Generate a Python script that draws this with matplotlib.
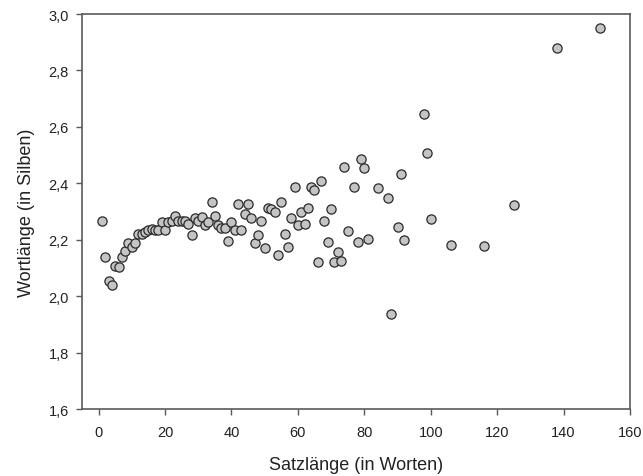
import matplotlib
matplotlib.use("Agg")
import matplotlib.pyplot as plt
from matplotlib.ticker import FuncFormatter

plt.rcParams['font.family'] = ['Liberation Sans', 'DejaVu Sans']

satzlaenge = [1, 2, 3, 4, 5, 6, 7, 8, 9, 10, 11, 12, 13, 14, 15, 16, 17, 18, 19, 20,
              21, 22, 23, 24, 25, 26, 27, 28, 29, 30, 31, 32, 33, 34, 35, 36, 37, 38, 39, 40,
              41, 42, 43, 44, 45, 46, 47, 48, 49, 50, 51, 52, 53, 54, 55, 56, 57, 58, 59, 60,
              61, 62, 63, 64, 65, 66, 67, 68, 69, 70, 71, 72, 73, 74, 75, 77, 78, 79, 80, 81,
              84, 87, 88, 90, 91, 92, 98, 99, 100, 106, 116, 125, 138, 151]
wortlaenge = [2.267, 2.140, 2.055, 2.038, 2.108, 2.104, 2.140, 2.161, 2.188, 2.173,
              2.190, 2.221, 2.222, 2.228, 2.234, 2.238, 2.234, 2.236, 2.264, 2.234,
              2.264, 2.267, 2.283, 2.267, 2.266, 2.265, 2.256, 2.215, 2.277, 2.265,
              2.279, 2.252, 2.262, 2.332, 2.283, 2.251, 2.240, 2.240, 2.197, 2.262,
              2.236, 2.328, 2.236, 2.292, 2.327, 2.277, 2.190, 2.217, 2.266, 2.172,
              2.311, 2.308, 2.297, 2.146, 2.334, 2.221, 2.175, 2.276, 2.388, 2.252,
              2.299, 2.257, 2.312, 2.388, 2.375, 2.122, 2.407, 2.267, 2.192, 2.310,
              2.121, 2.155, 2.126, 2.457, 2.231, 2.388, 2.192, 2.485, 2.453, 2.201,
              2.384, 2.348, 1.935, 2.246, 2.432, 2.200, 2.646, 2.508, 2.272, 2.182,
              2.177, 2.323, 2.879, 2.949]

x_ticks = [0, 20, 40, 60, 80, 100, 120, 140, 160]
y_ticks = [1.6, 1.8, 2.0, 2.2, 2.4, 2.6, 2.8, 3.0]

fig = plt.figure(figsize=(6.43, 4.77), dpi=100)
ax = fig.add_axes([82/643, 1 - 410/477, (630 - 82)/643, (410 - 15)/477])

ax.scatter(satzlaenge, wortlaenge, s=44, facecolor='#c4c4c4', edgecolor='#2a2a2a',
           linewidths=0.9, zorder=3)

ax.set_xlim(-5, 160)
ax.set_ylim(1.6, 3.0)
ax.set_xticks(x_ticks)
ax.set_yticks(y_ticks)
ax.yaxis.set_major_formatter(FuncFormatter(lambda v, p: f"{v:.1f}".replace('.', ',')))

for sp in ax.spines.values():
    sp.set_color('#5a5a5a')
    sp.set_linewidth(1.2)

ax.tick_params(axis='both', direction='out', length=4.5, width=1.0, color='#5a5a5a',
               labelsize=10.5, labelcolor='#222222')
ax.tick_params(axis='x', pad=7)
ax.tick_params(axis='y', pad=5)

ax.set_xlabel('Satzlänge (in Worten)', fontsize=13, color='#222222', labelpad=12)
ax.set_ylabel('Wortlänge (in Silben)', fontsize=13, color='#222222', labelpad=10)

fig.savefig('out.png', dpi=100)
